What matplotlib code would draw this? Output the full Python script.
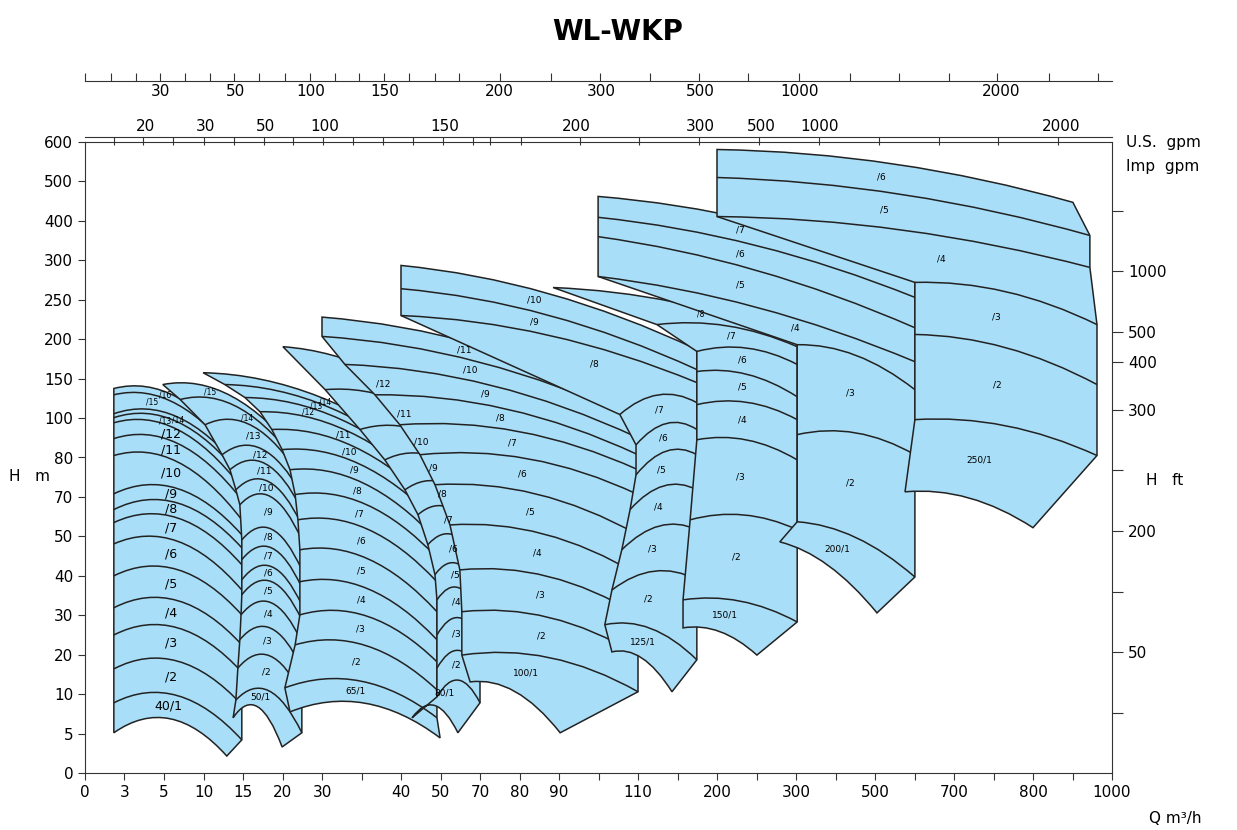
import numpy as np
import matplotlib.pyplot as plt
from matplotlib.path import Path
from matplotlib.patches import PathPatch

# 图中所有坐标都用网格单位（x 轴和 y 轴都是等距刻度，非线性标注）
x_tick_labels = ['0', '3', '5', '10', '15', '20', '30', '', '40', '50', '70', '80', '90', '',
                 '110', '', '200', '', '300', '', '500', '', '700', '', '800', '', '1000']
y_tick_labels = ['0', '5', '10', '20', '30', '40', '50', '70', '80', '100', '150', '200',
                 '250', '300', '400', '500', '600']
ft_ticks = [14.24, 12.72, 11.17, 10.41, 9.21, 7.69, 6.14, 4.59, 3.07, 1.52]
ft_labels = ['', '1000', '500', '400', '300', '', '200', '', '50', '']
usgpm_ticks = [0, .65, 1.28, 1.9, 2.53, 3.16, 3.77, 4.41, 5.06, 5.7, 6.33, 6.94, 7.57, 8.2, 8.85,
               9.48, 10.51, 11.8, 13.04, 14.3, 15.54, 16.78, 18.08, 19.37, 20.6, 21.87, 23.1,
               24.4, 25.65]
usgpm_label_pos = [1.9, 3.8, 5.72, 7.6, 10.5, 13.06, 15.57, 18.1, 23.2]
usgpm_labels = ['30', '50', '100', '150', '200', '300', '500', '1000', '2000']
impgpm_ticks = [.73, 1.47, 2.23, 3.01, 3.77, 4.53, 5.27, 6.03, 6.78, 7.54, 8.3, 9.06, 9.82, 10.25,
                11.04, 12.53, 14.03, 15.54, 17.06, 18.58, 20.1, 21.62, 23.11, 24.63]
impgpm_label_pos = [1.52, 3.04, 4.56, 6.08, 9.11, 12.43, 15.57, 17.11, 18.6, 24.7]
impgpm_labels = ['20', '30', '50', '100', '150', '200', '300', '500', '1000', '2000']

# 每个泵系列：各条性能曲线起点 (xs, ys)、终点 (xe, ye)，从下到上
fam_40_xs = [0.73] * 17
fam_40_ys = [1.02, 1.78, 2.64, 3.50, 4.19, 5.00, 5.81, 6.35, 6.68, 7.08, 8.05, 8.48, 8.88, 9.01, 9.11, 9.59, 9.75]
fam_40_xe = [3.59] + [3.97] * 16
fam_40_ye = [0.43, 0.84, 1.73, 2.56, 3.25, 4.01, 4.64, 5.28, 5.71, 6.04, 6.42, 6.93, 7.23, 7.49, 7.64, 7.79, 7.99]

fam_50_xs = [3.75, 3.82, 3.87, 3.92, 3.95, 3.97, 3.97, 3.97, 3.97, 3.92, 3.82, 3.67, 3.47, 3.04, 2.41, 1.97]
fam_50_ys = [1.40, 1.85, 2.66, 3.38, 4.01, 4.52, 4.90, 5.41, 5.91, 6.80, 7.18, 7.69, 8.07, 8.83, 9.47, 9.85]
fam_50_xe = [4.99] + [5.49] * 15
fam_50_ye = [0.66, 1.02, 1.98, 2.66, 3.32, 3.88, 4.26, 4.70, 5.15, 5.91, 6.29, 6.68, 7.06, 7.44, 7.69, 7.94]

fam_65_xs = [5.19, 5.06, 5.32, 5.44, 5.44, 5.44, 5.39, 5.32, 5.19, 4.99, 4.73, 4.43, 4.05, 3.54, 2.99]
fam_65_ys = [1.55, 2.16, 3.25, 4.01, 4.85, 5.66, 6.42, 7.06, 7.69, 8.20, 8.71, 9.16, 9.52, 9.85, 10.15]
fam_65_xe = [8.99] + [8.91] * 14
fam_65_ye = [0.89, 1.40, 2.11, 2.82, 3.38, 4.09, 4.85, 5.46, 5.91, 6.37, 6.73, 7.06, 7.31, 7.56, 7.82]

fam_80_xs = [8.28, 8.91, 8.91, 8.91, 8.91, 8.86, 8.68, 8.43, 8.10, 7.59, 6.96, 6.08, 5.01]
fam_80_ys = [1.40, 1.93, 2.66, 3.50, 4.39, 5.03, 5.79, 6.55, 7.18, 7.94, 8.71, 9.72, 10.81]
fam_80_xe = [9.44] + [10.0] * 12
fam_80_ye = [1.02, 1.78, 2.56, 3.38, 4.01, 4.59, 5.28, 5.91, 6.55, 7.13, 7.64, 8.07, 8.45]

fam_100_xs = [9.75, 9.54, 9.54, 9.49, 9.24, 8.86, 8.48, 7.97, 7.34, 6.58, 6.0, 6.0]
fam_100_ys = [2.31, 2.99, 4.09, 5.15, 6.29, 7.31, 8.07, 8.83, 9.59, 10.36, 11.07, 11.56]
fam_100_xe = [12.03] + [14.0] * 11
fam_100_ye = [1.02, 2.06, 2.99, 4.01, 5.03, 6.04, 7.06, 7.69, 8.07, 8.50, 8.96, 9.34]

fam_125_xs = [13.34, 13.16, 13.34, 13.59, 13.80, 13.95, 13.95, 13.54, 8.0, 8.0, 8.0]
fam_125_ys = [3.07, 3.76, 4.64, 5.66, 6.68, 7.56, 8.32, 9.09, 11.60, 12.28, 12.87]
fam_125_xe = [14.86] + [15.49] * 10
fam_125_ye = [2.06, 2.87, 4.90, 6.17, 7.18, 8.07, 8.71, 9.39, 9.90, 10.23, 10.74]

fam_150_xs = [15.14, 15.14, 15.32, 15.49, 15.49, 15.49, 15.49, 14.48, 11.85]
fam_150_ys = [3.68, 4.39, 6.42, 8.45, 9.34, 10.18, 10.69, 11.37, 12.31]
fam_150_xe = [17.01] + [18.03] * 8
fam_150_ye = [2.99, 3.83, 6.17, 7.94, 8.96, 9.54, 10.36, 10.81, 11.07]

fam_200_xs = [17.59, 18.03, 18.03, 18.03, 12.99, 12.99, 12.99, 12.99]
fam_200_ys = [5.86, 6.37, 8.58, 10.86, 12.59, 13.60, 14.09, 14.62]
fam_200_xe = [20.05] + [21.01] * 7
fam_200_ye = [4.06, 4.97, 8.07, 9.72, 10.43, 11.29, 12.06, 12.77]

fam_250_xs = [20.76, 21.01, 21.01, 21.01, 16.0, 16.0, 16.0]
fam_250_ys = [7.13, 8.96, 11.12, 12.44, 14.11, 15.10, 15.81]
fam_250_xe = [24.0, 25.62, 25.62, 25.62, 25.44, 25.44, 25.01]
fam_250_ye = [6.22, 8.05, 9.85, 11.37, 12.82, 13.63, 14.47]

families = [
    ('40', fam_40_xs, fam_40_ys, fam_40_xe, fam_40_ye, 1.3, 9),
    ('50', fam_50_xs, fam_50_ys, fam_50_xe, fam_50_ye, 1.3, 6.5),
    ('65', fam_65_xs, fam_65_ys, fam_65_xe, fam_65_ye, 1.1, 6.5),
    ('80', fam_80_xs, fam_80_ys, fam_80_xe, fam_80_ye, 1.0, 6.5),
    ('100', fam_100_xs, fam_100_ys, fam_100_xe, fam_100_ye, 0.8, 6.5),
    ('125', fam_125_xs, fam_125_ys, fam_125_xe, fam_125_ye, 0.7, 6.5),
    ('150', fam_150_xs, fam_150_ys, fam_150_xe, fam_150_ye, 0.5, 6.5),
    ('200', fam_200_xs, fam_200_ys, fam_200_xe, fam_200_ye, 0.6, 6.5),
    ('250', fam_250_xs, fam_250_ys, fam_250_xe, fam_250_ye, 0.6, 6.5),
]

FILL = '#a8def7'
EDGE = '#222222'


def ctrl(x0, y0, x1, y1, bulge):
    return ((x0 + x1) / 2, (y0 + y1) / 2 + bulge)


def bez(p0, p1, p2, t):
    return ((1 - t) ** 2 * p0[0] + 2 * t * (1 - t) * p1[0] + t ** 2 * p2[0],
            (1 - t) ** 2 * p0[1] + 2 * t * (1 - t) * p1[1] + t ** 2 * p2[1])


fig = plt.figure(figsize=(12.37, 8.3), dpi=100)
ax = fig.add_axes([85 / 1237, 1 - 773 / 830, 1027 / 1237, 631 / 830])
ax.set_xlim(0, 26)
ax.set_ylim(0, 16)

for name, xs, ys, xe, ye, bulge, fs in families:
    n = len(xs)
    s = list(zip(xs, ys))
    e = list(zip(xe, ye))
    c = [ctrl(xs[i], ys[i], xe[i], ye[i], bulge) for i in range(n)]
    # 外轮廓
    verts = [s[0], c[0], e[0]] + e[1:] + [c[-1], s[-1]] + s[-2::-1] + [s[0]]
    codes = ([Path.MOVETO, Path.CURVE3, Path.CURVE3] + [Path.LINETO] * (n - 1)
             + [Path.CURVE3, Path.CURVE3] + [Path.LINETO] * (n - 1) + [Path.CLOSEPOLY])
    ax.add_patch(PathPatch(Path(verts, codes), facecolor=FILL, edgecolor=EDGE, lw=1.1, zorder=2))
    for i in range(1, n - 1):
        ax.add_patch(PathPatch(Path([s[i], c[i], e[i]], [Path.MOVETO, Path.CURVE3, Path.CURVE3]),
                               facecolor='none', edgecolor=EDGE, lw=1.1, zorder=2))
    # 标注级数：窄条用小字并沿曲线错开
    for k in range(1, n):
        gap = min(ys[k] - ys[k - 1], ye[k] - ye[k - 1])
        size = fs if gap > 0.3 else 5.5
        t = 0.45 if gap > 0.3 else 0.3 + 0.1 * (k % 3)
        pa = bez(s[k - 1], c[k - 1], e[k - 1], t)
        pb = bez(s[k], c[k], e[k], t)
        txt = f'{name}/1' if k == 1 else f'/{k}'
        ax.text((pa[0] + pb[0]) / 2, (pa[1] + pb[1]) / 2, txt, fontsize=size,
                ha='center', va='center', zorder=3)

ax.set_xticks(range(27))
ax.set_xticklabels(x_tick_labels, fontsize=11)
ax.set_yticks(range(17))
ax.set_yticklabels(y_tick_labels, fontsize=11)
ax.tick_params(direction='out', length=5, color='#333333')
for sp in ax.spines.values():
    sp.set_color('#333333')

# 右侧 ft 刻度
axr = ax.twinx()
axr.set_ylim(0, 16)
axr.set_yticks(ft_ticks)
axr.set_yticklabels(ft_labels, fontsize=11)
axr.tick_params(direction='out', length=8, color='#333333')
for sp in axr.spines.values():
    sp.set_visible(False)

# 顶部流量刻度（US gpm 与 Imp gpm）
axu = fig.add_axes([85 / 1237, 1 - 81 / 830, 1027 / 1237, 0.0001])
axu.set_xlim(0, 26)
axu.set_yticks([])
for k in ['top', 'left', 'right']:
    axu.spines[k].set_visible(False)
axu.spines['bottom'].set_color('#333333')
axu.xaxis.remove_overlapping_locs = False
axu.set_xticks(usgpm_ticks)
axu.set_xticklabels([''] * len(usgpm_ticks))
axu.set_xticks(usgpm_label_pos, minor=True)
axu.set_xticklabels(usgpm_labels, minor=True, fontsize=11)
axu.tick_params(axis='x', which='major', direction='in', length=6, color='#333333')
axu.tick_params(axis='x', which='minor', direction='in', length=0, pad=2)
axu.patch.set_visible(False)

axi = fig.add_axes([85 / 1237, 1 - 137 / 830, 1027 / 1237, 0.0001])
axi.set_xlim(0, 26)
axi.set_yticks([])
for k in ['bottom', 'left', 'right']:
    axi.spines[k].set_visible(False)
axi.spines['top'].set_color('#333333')
axi.xaxis.tick_top()
axi.xaxis.remove_overlapping_locs = False
axi.set_xticks(impgpm_ticks)
axi.set_xticklabels([''] * len(impgpm_ticks))
axi.set_xticks(impgpm_label_pos, minor=True)
axi.set_xticklabels(impgpm_labels, minor=True, fontsize=11)
axi.tick_params(axis='x', which='major', direction='in', length=6, color='#333333')
axi.tick_params(axis='x', which='minor', direction='in', length=0, pad=2)
axi.patch.set_visible(False)

fig.text(618 / 1237, 1 - 32 / 830, 'WL-WKP', fontsize=20, fontweight='bold', ha='center', va='center')
fig.text(1163 / 1237, 1 - 142 / 830, 'U.S.  gpm', fontsize=11, ha='center', va='center')
fig.text(1163 / 1237, 1 - 166 / 830, 'Imp  gpm', fontsize=11, ha='center', va='center')
fig.text(1165 / 1237, 1 - 480 / 830, 'H   ft', fontsize=11, ha='center', va='center')
fig.text(30 / 1237, 1 - 476 / 830, 'H   m', fontsize=11, ha='center', va='center')
fig.text(1175 / 1237, 1 - 818 / 830, 'Q m³/h', fontsize=11, ha='center', va='center')

fig.savefig('out.png', dpi=100)
